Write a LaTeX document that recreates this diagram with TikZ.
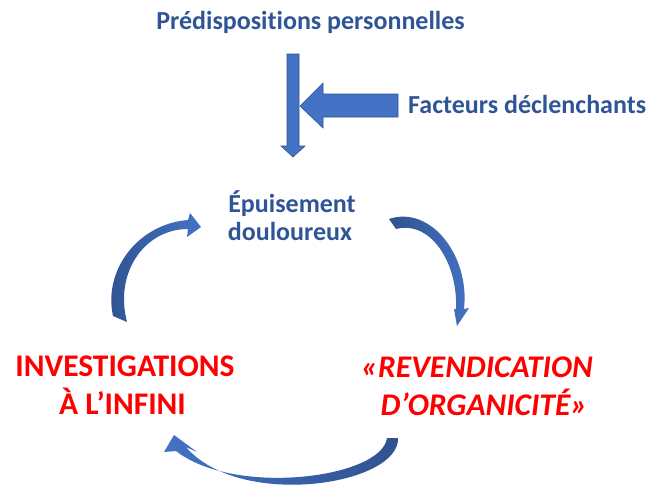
\documentclass[tikz,border=0pt]{standalone}
\usepackage{fontspec}
\setmainfont{Carlito}[Ligatures=NoCommon]
\definecolor{tblue}{HTML}{2F5597}
\definecolor{ablue}{HTML}{4472C4}
\definecolor{dblue}{HTML}{2F528F}
\definecolor{tred}{HTML}{FF0000}
\tikzset{
  bluetxt/.style={text=tblue,font=\bfseries\fontsize{26}{30}\selectfont,inner sep=0pt,anchor=base},
  redtxt/.style={text=tred,font=\bfseries\fontsize{31.5}{38}\selectfont,inner sep=0pt,anchor=base},
  reditxt/.style={redtxt,font=\bfseries\itshape\fontsize{31.5}{38}\selectfont},
  flatarrow/.style={fill=ablue,draw=dblue,line width=0.6pt},
  curvarrow/.style={left color=dblue,right color=ablue,draw=none},
  curvarrowr/.style={left color=ablue,right color=dblue,draw=none}
}
\begin{document}
\begin{tikzpicture}[x=1pt,y=-1pt]
\useasboundingbox (0,0) rectangle (655,491);
\node[bluetxt] (pred) at (310.5,29) {Prédispositions personnelles};
\node[bluetxt,anchor=base west] (fact) at (408,113) {Facteurs déclenchants};
\node[bluetxt] (epu1) at (292,212) {Épuisement};
\node[bluetxt] (epu2) at (290,240) {douloureux};
\node[redtxt] (inv1) at (125,376) {INVESTIGATIONS};
\node[redtxt] (inv2) at (122.5,414) {À L’INFINI};
\node[reditxt] (rev1) at (477,377) {«REVENDICATION};
\node[reditxt] (rev2) at (484,415) {D’ORGANICITÉ»};
% straight arrows
\draw[flatarrow] (287,54) -- (299,54) -- (299,146) -- (305,146) -- (293,157) -- (281,146) -- (287,146) -- cycle;
\draw[flatarrow] (398,94) -- (323,94) -- (323,83) -- (300,106) -- (323,128) -- (323,117) -- (398,117) -- cycle;
% left curved arrow
\shade[curvarrow] (113,316) .. controls (103,270) and (138,224) .. (188,220)
  -- (190,213) -- (201,227) -- (187,237) -- (188,229)
  .. controls (145,229) and (114,272) .. (127,322) -- cycle;
% right curved arrow
\shade[curvarrow] (389,219) .. controls (430,205) and (470,255) .. (464,309)
  -- (469,308) -- (457,326) -- (454,309) -- (456,309)
  .. controls (458,262) and (430,220) .. (396,229) -- cycle;
% bottom curved arrow
\shade[curvarrowr] (398,438) .. controls (400,485) and (240,510) .. (186,447)
  -- (197,452) -- (174,435) -- (164,452) -- (176,451)
  .. controls (235,497) and (382,478) .. (387,438) -- cycle;
\end{tikzpicture}
\end{document}
